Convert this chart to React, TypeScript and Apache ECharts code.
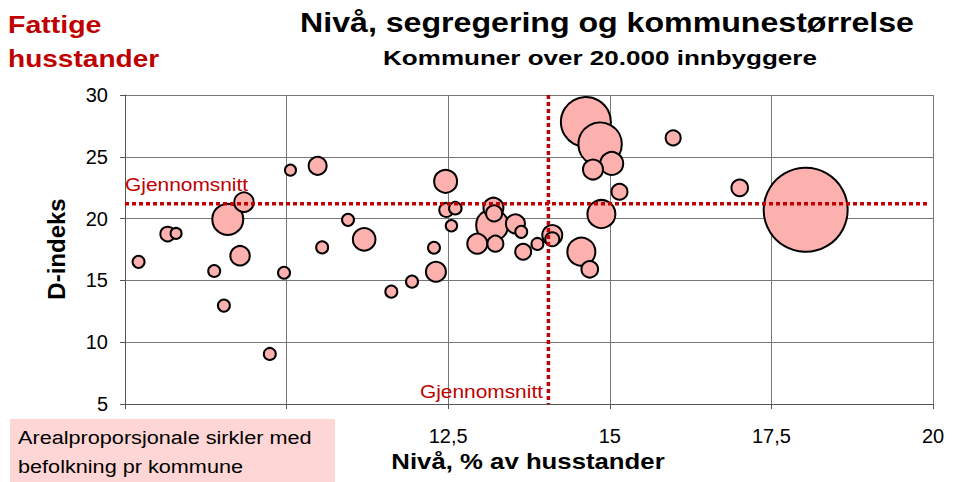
import React, { useEffect, useRef } from "react";
import * as echarts from "echarts";

// Nivå: andel fattige husstander (%)
const nivaa = [
  7.71, 8.16, 8.29, 9.09, 9.34, 9.28, 8.88, 9.96, 10.06, 10.48,
  10.95, 10.55, 11.2, 9.03, 9.74, 11.62, 11.94, 12.31, 12.28, 14.69,
  14.56, 14.63, 14.85, 15.03, 14.74, 15.98, 15.15, 14.87, 12.46, 12.47,
  12.61, 12.55, 13.2, 13.21, 13.18, 13.54, 13.63, 12.95, 13.23, 13.66,
  13.88, 14.11, 14.11, 17.01, 18.03,
];
// D-indeks (segregering)
const dIndeks = [
  16.5, 18.75, 18.8, 19.94, 21.33, 17.0, 15.76, 15.62, 23.92, 24.27,
  19.9, 17.67, 18.32, 12.96, 9.05, 14.09, 14.9, 15.7, 17.64, 15.9,
  17.32, 27.82, 26.02, 24.46, 23.97, 26.53, 22.17, 20.37, 23.02, 20.7,
  20.84, 19.42, 20.88, 20.42, 19.47, 19.58, 18.93, 17.97, 17.97, 17.32,
  17.95, 18.67, 18.33, 22.49, 20.71,
];
// Befolkning (tusen), lest av sirkelarealet
const befolkning = [
  10.8, 16.0, 9.1, 72.2, 28.3, 28.3, 10.8, 10.8, 9.1, 24.3,
  10.8, 10.8, 38.4, 10.8, 10.8, 10.8, 10.8, 30.0, 10.8, 20.7,
  58.9, 187.8, 141.5, 39.7, 30.0, 16.9, 19.2, 58.9, 39.7, 14.7,
  11.9, 9.8, 30.0, 19.2, 76.9, 27.1, 10.8, 30.0, 19.2, 19.2,
  10.8, 30.0, 14.7, 20.7, 530,
];

const snittNivaa = 14.05;
const snittD = 21.2;

const xMin = 7.5, xMax = 20, xStep = 2.5;
const yMin = 5, yMax = 30, yStep = 5;

const FONT = "'Liberation Sans', Arial, sans-serif";
const RED = "#c00000";

export default function App() {
  const ref = useRef<HTMLDivElement>(null);
  useEffect(() => {
    document.body.style.margin = "0";
    const chart = echarts.init(ref.current!, null, { renderer: "svg" });
    const maxPop = Math.max(...befolkning);
    const maxDiam = 84;
    const pts = nivaa
      .map((x, i) => [x, dIndeks[i], befolkning[i]])
      .sort((a, b) => b[2] - a[2]);

    const txt = (
      text: string,
      x: number,
      y: number,
      font: string,
      fill: string,
      align: string,
      sx = 1,
      rotation = 0
    ) => ({
      type: "text",
      x,
      y,
      scaleX: sx,
      rotation,
      z: 110,
      silent: true,
      style: {
        text,
        x: 0,
        y: 0,
        font,
        fill,
        textAlign: align,
        align,
        textVerticalAlign: "middle",
        verticalAlign: "middle",
      },
    });

    chart.setOption({
      animation: false,
      backgroundColor: "#ffffff",
      textStyle: { fontFamily: FONT },
      grid: { left: 125, right: 31, top: 95, bottom: 78 },
      xAxis: {
        type: "value",
        min: xMin,
        max: xMax,
        interval: xStep,
        axisLine: { show: true, lineStyle: { color: "#555", width: 1 } },
        axisTick: { show: true, length: 5, lineStyle: { color: "#555" } },
        splitLine: { show: true, lineStyle: { color: "#777", width: 1 } },
        axisLabel: {
          fontSize: 20,
          color: "#000",
          fontFamily: FONT,
          margin: 22,
          formatter: (v: number) => String(v).replace(".", ","),
        },
      },
      yAxis: {
        type: "value",
        min: yMin,
        max: yMax,
        interval: yStep,
        axisLine: { show: true, lineStyle: { color: "#555", width: 1 } },
        axisTick: { show: true, length: 5, lineStyle: { color: "#555" } },
        splitLine: { show: true, lineStyle: { color: "#777", width: 1 } },
        axisLabel: { fontSize: 20, color: "#000", fontFamily: FONT, margin: 17 },
      },
      series: [
        {
          type: "scatter",
          data: pts,
          symbol: "circle",
          symbolSize: (d: number[]) => maxDiam * Math.sqrt(d[2] / maxPop),
          itemStyle: { color: "#fdb1ae", borderColor: "#000", borderWidth: 2, opacity: 1 },
          silent: true,
          z: 2,
        },
        {
          type: "line",
          data: [[xMin, snittD], [19.92, snittD]],
          symbol: "none",
          silent: true,
          lineStyle: { color: RED, width: 3.5, type: [4, 3] },
          z: 5,
        },
        {
          type: "line",
          data: [[snittNivaa, yMax], [snittNivaa, yMin]],
          symbol: "none",
          silent: true,
          lineStyle: { color: RED, width: 3.5, type: [4, 3] },
          z: 5,
        },
      ],
      graphic: [
        {
          type: "rect",
          z: 100,
          silent: true,
          shape: { x: 10, y: 419, width: 325, height: 63 },
          style: { fill: "#ffd6d6" },
        },
        txt("Nivå, segregering og kommunestørrelse", 607, 22, `bold 27px ${FONT}`, "#000", "center", 1.19),
        txt("Kommuner over 20.000 innbyggere", 600, 58, `bold 21px ${FONT}`, "#000", "center", 1.24),
        txt("Fattige", 8, 25, `bold 23px ${FONT}`, RED, "left", 1.24),
        txt("husstander", 8, 59, `bold 23px ${FONT}`, RED, "left", 1.22),
        txt("D-indeks", 56, 249, `bold 24px ${FONT}`, "#000", "center", 1, Math.PI / 2),
        txt("Nivå, % av husstander", 528, 461, `bold 23px ${FONT}`, "#000", "center", 1.12),
        txt("Gjennomsnitt", 125, 184, `19px ${FONT}`, RED, "left", 1.1),
        txt("Gjennomsnitt", 543, 391, `19px ${FONT}`, RED, "right", 1.1),
        txt("Arealproporsjonale sirkler med", 18, 437, `19px ${FONT}`, "#000", "left", 1.14),
        txt("befolkning pr kommune", 18, 466, `19px ${FONT}`, "#000", "left", 1.14),
      ],
    });
    return () => chart.dispose();
  }, []);
  return (
    <div
      ref={ref}
      style={{ width: 964, height: 482, position: "absolute", left: 0, top: 0 }}
    />
  );
}
